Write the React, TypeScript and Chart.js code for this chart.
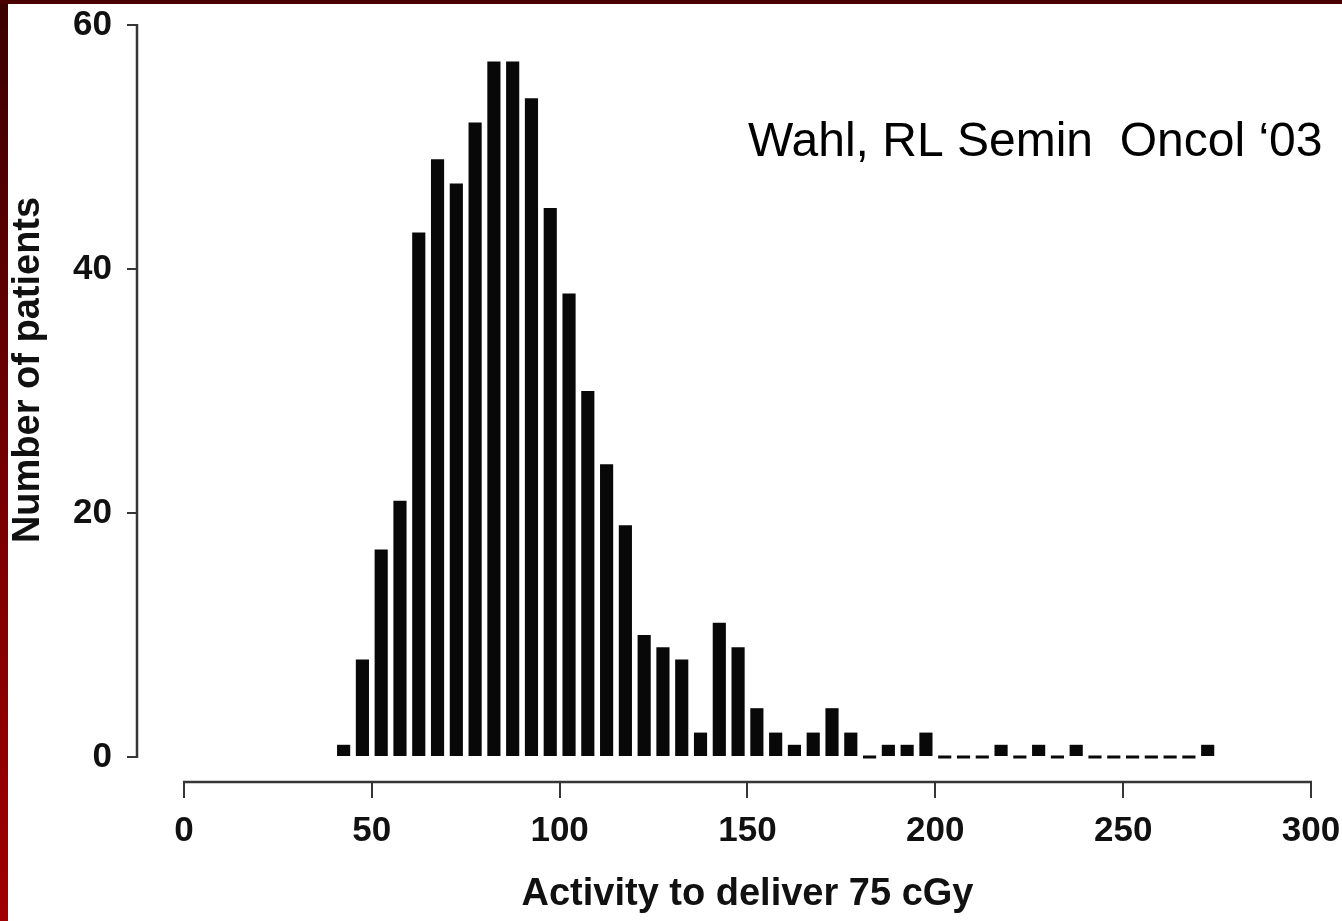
import React, { useEffect, useRef } from "react";
import { Chart, registerables } from "chart.js";

Chart.register(...registerables);

// Histogram bins (centre of each 5-unit bin) and patient counts
const binCenters = [
  42.5, 47.5, 52.5, 57.5, 62.5, 67.5, 72.5, 77.5, 82.5, 87.5,
  92.5, 97.5, 102.5, 107.5, 112.5, 117.5, 122.5, 127.5, 132.5, 137.5,
  142.5, 147.5, 152.5, 157.5, 162.5, 167.5, 172.5, 177.5, 182.5, 187.5,
  192.5, 197.5, 202.5, 207.5, 212.5, 217.5, 222.5, 227.5, 232.5, 237.5,
  242.5, 247.5, 252.5, 257.5, 262.5, 267.5, 272.5,
];
const patientCounts = [
  1, 8, 17, 21, 43, 49, 47, 52, 57, 57,
  54, 45, 38, 30, 24, 19, 10, 9, 8, 2,
  11, 9, 4, 2, 1, 2, 4, 2, 0, 1,
  1, 2, 0, 0, 0, 1, 0, 1, 0, 1,
  0, 0, 0, 0, 0, 0, 1,
];
const xTickValues = [0, 50, 100, 150, 200, 250, 300];
const yTickValues = [0, 20, 40, 60];
const xAxisTitle = "Activity to deliver 75 cGy";
const yAxisTitle = "Number of patients";
const citation = "Wahl, RL Semin  Oncol ‘03";

const FONT = "'Liberation Sans', Arial, Helvetica, sans-serif";

const decorPlugin = {
  id: "decor",
  afterDraw(chart: any) {
    const { ctx, chartArea, scales } = chart;
    const x = scales.x;
    const y = scales.y;
    const xFirst = xTickValues[0];
    const xLast = xTickValues[xTickValues.length - 1];
    const yFirst = yTickValues[0];
    const yLast = yTickValues[yTickValues.length - 1];
    ctx.save();
    ctx.strokeStyle = "#363636";
    ctx.lineWidth = 2.5;
    // detached x axis line
    ctx.beginPath();
    ctx.moveTo(x.getPixelForValue(xFirst) - 1, chartArea.bottom);
    ctx.lineTo(x.getPixelForValue(xLast) + 1, chartArea.bottom);
    ctx.stroke();
    // detached y axis line
    ctx.beginPath();
    ctx.moveTo(chartArea.left, y.getPixelForValue(yFirst) + 1);
    ctx.lineTo(chartArea.left, y.getPixelForValue(yLast) - 1);
    ctx.stroke();

    // axis titles
    ctx.fillStyle = "#111";
    ctx.font = `bold 38px ${FONT}`;
    ctx.textAlign = "center";
    ctx.textBaseline = "middle";
    ctx.fillText(xAxisTitle, x.getPixelForValue((xFirst + xLast) / 2), chartArea.bottom + 113);
    ctx.save();
    ctx.translate(29, (y.getPixelForValue(yFirst) + y.getPixelForValue(yLast)) / 2 - 21);
    ctx.rotate(-Math.PI / 2);
    ctx.fillText(yAxisTitle, 0, 0);
    ctx.restore();

    // citation
    ctx.fillStyle = "#000";
    ctx.font = `48px ${FONT}`;
    ctx.textAlign = "left";
    ctx.textBaseline = "alphabetic";
    ctx.fillText(citation, 748, 156);
    ctx.restore();
  },
};

export default function App() {
  const canvasRef = useRef<HTMLCanvasElement>(null);

  useEffect(() => {
    const canvas = canvasRef.current;
    if (!canvas) return;
    const chart = new Chart(canvas, {
      type: "bar",
      data: {
        datasets: [
          {
            data: binCenters.map((c, i) => ({ x: c, y: patientCounts[i] })),
            backgroundColor: "#080808",
            borderWidth: 0,
            categoryPercentage: 1,
            barPercentage: 0.7,
            minBarLength: 3,
          },
        ],
      },
      options: {
        responsive: false,
        animation: false,
        devicePixelRatio: 1,
        events: [],
        layout: { padding: { left: 0, right: 31, top: 25, bottom: 0 } },
        plugins: {
          legend: { display: false },
          tooltip: { enabled: false },
          title: { display: false },
        },
        scales: {
          x: {
            type: "linear",
            position: "bottom",
            min: -12.5,
            max: 300,
            offset: false,
            afterBuildTicks: (scale: any) => {
              scale.ticks = xTickValues.map((v) => ({ value: v }));
            },
            afterFit: (scale: any) => {
              scale.height = 139;
              scale.paddingLeft = 0;
              scale.paddingRight = 0;
            },
            border: { display: false },
            grid: {
              offset: false,
              drawOnChartArea: false,
              drawTicks: true,
              tickLength: 16,
              color: "#363636",
              lineWidth: 2,
            },
            ticks: {
              autoSkip: false,
              maxRotation: 0,
              padding: 12,
              color: "#111",
              font: { family: FONT, size: 35, weight: "bold" },
              callback: (v: any) => String(v),
            },
          },
          y: {
            type: "linear",
            position: "left",
            min: -2.05,
            max: 60,
            afterBuildTicks: (scale: any) => {
              scale.ticks = yTickValues.map((v) => ({ value: v }));
            },
            afterFit: (scale: any) => {
              scale.width = 137;
              scale.paddingTop = 0;
              scale.paddingBottom = 0;
            },
            border: { display: false },
            grid: {
              drawOnChartArea: false,
              drawTicks: true,
              tickLength: 10,
              color: "#363636",
              lineWidth: 2,
            },
            ticks: {
              padding: 15,
              color: "#111",
              font: { family: FONT, size: 35, weight: "bold" },
              callback: (v: any) => String(v),
            },
          },
        },
      },
      plugins: [decorPlugin],
    } as any);
    return () => chart.destroy();
  }, []);

  return (
    <div
      style={{
        position: "fixed",
        left: 0,
        top: 0,
        width: 1342,
        height: 921,
        background: "#ffffff",
        overflow: "hidden",
      }}
    >
      <canvas
        ref={canvasRef}
        width={1342}
        height={921}
        style={{ position: "absolute", left: 0, top: 0, width: 1342, height: 921 }}
      />
      <div
        style={{
          position: "absolute",
          left: 0,
          top: 0,
          width: 8,
          height: 921,
          background: "linear-gradient(to bottom, #3a0000, #7a0000 55%, #a00000)",
        }}
      />
      <div
        style={{
          position: "absolute",
          left: 0,
          top: 0,
          width: 1342,
          height: 4,
          background: "#4a0000",
        }}
      />
    </div>
  );
}
